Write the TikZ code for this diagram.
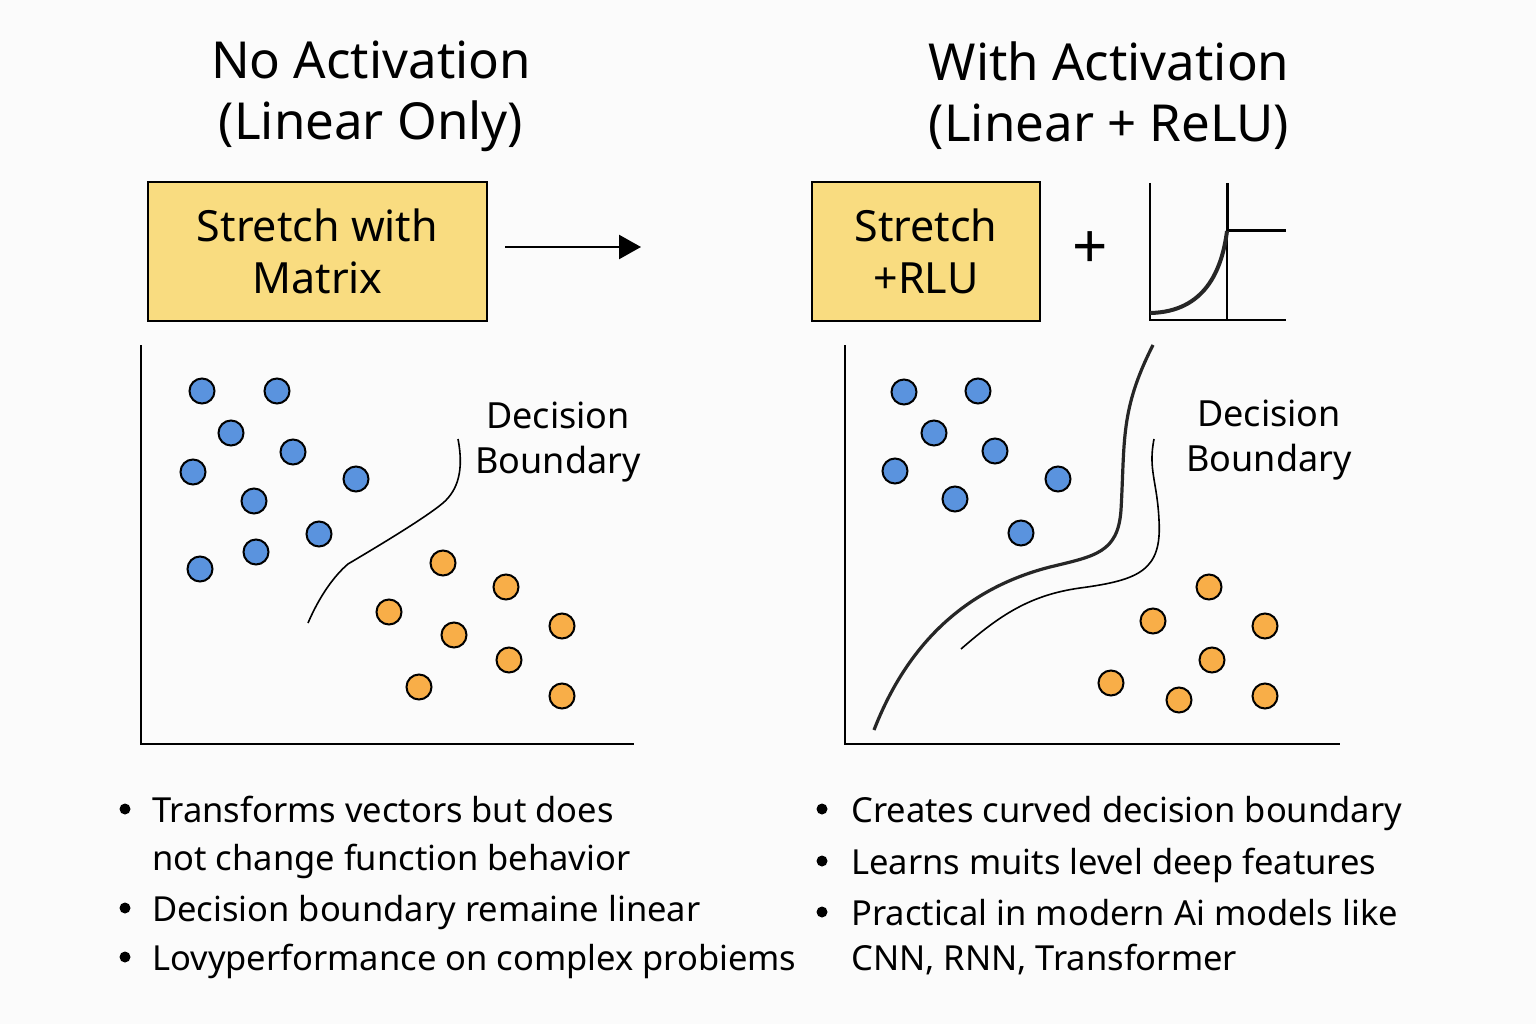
\documentclass[tikz,border=0pt]{standalone}
\usepackage{fontspec}
\setmainfont{Noto Sans}
\usetikzlibrary{arrows.meta}
\definecolor{bg}{HTML}{FBFBFB}
\definecolor{boxfill}{HTML}{F9DC80}
\definecolor{dotblue}{HTML}{5A93DE}
\definecolor{dotorange}{HTML}{F8AE48}
\tikzset{
  title/.style={font=\fontsize{51}{61}\selectfont, align=center},
  stepbox/.style={draw=black, line width=1.2pt, fill=boxfill},
  boxtext/.style={font=\fontsize{43}{52}\selectfont, align=center},
  lbl/.style={font=\fontsize{36}{45}\selectfont, align=center},
  bul/.style={font=\fontsize{34.5}{48}\selectfont, anchor=base west, align=left, inner sep=0pt},
  bdot/.style={circle, minimum size=11pt, inner sep=0pt, fill=black},
  axis/.style={line width=2pt, line cap=butt},
  bluept/.style={circle, draw=black, line width=2pt, fill=dotblue, minimum size=25pt, inner sep=0pt},
  orpt/.style={circle, draw=black, line width=2pt, fill=dotorange, minimum size=25pt, inner sep=0pt},
  thinb/.style={line width=1.6pt},
  thickb/.style={line width=3.2pt, draw=black!85},
}
\begin{document}
\begin{tikzpicture}[x=1pt,y=-1pt]
\fill[bg] (0,0) rectangle (1536,1024);
\useasboundingbox (0,0) rectangle (1536,1024);

% titles
\node[title] (t1) at (371,96) {No Activation\\(Linear Only)};
\node[title] (t2) at (1109,96) {With Activation\\(Linear + ReLU)};

% left box
\node[stepbox, minimum width=339pt, minimum height=139pt] (b1) at (317.5,251.5) {};
\node[boxtext] (b1t) at (b1) {Stretch with\\Matrix};
\coordinate (a1) at (505,247);
\coordinate (a2) at (641,247);
\draw[line width=2.5pt, -{Triangle[length=22pt,width=24pt]}] (a1) -- (a2);

% right box
\node[stepbox, minimum width=228pt, minimum height=139pt] (b2) at (926,251.5) {};
\node[boxtext] (b2t) at (b2) {Stretch\\+RLU};
\node[font=\fontsize{62}{70}\selectfont] (plus) at (1090,250) {+};

% relu icon
\draw[line width=2pt] (1150,183) -- (1150,320) -- (1286,320);
\draw[line width=2pt] (1227,183) -- (1227,320);
\draw[line width=3pt] (1227,183) -- (1227,231);
\draw[line width=3pt] (1227,231) -- (1286,231);
\draw[line width=4pt, black!85] (1150,313) .. controls (1205,312) and (1222,270) .. (1227,231);

% left plot
\draw[axis] (141,345) -- (141,744) -- (634,744);
\foreach \x/\y [count=\i] in {202/391,277/391,231/433,293/452,193/472,356/479,254/501,319/534,256/552,200/569}
  \node[bluept] (lb\i) at (\x,\y) {};
\foreach \x/\y [count=\i] in {443/563,506/587,389/612,454/635,562/626,509/660,419/687,562/696}
  \node[orpt] (lo\i) at (\x,\y) {};
\draw[thinb] (308,623) .. controls (320,595) and (335,575) .. (348,564)
  .. controls (380,545) and (425,518) .. (443,503)
  .. controls (458,490) and (464,470) .. (458,439);
\node[lbl] (dl) at (558,442) {Decision\\Boundary};

% right plot
\draw[axis] (845,345) -- (845,744) -- (1340,744);
\foreach \x/\y [count=\i] in {904/392,978/391,934/433,995/451,895/471,1058/479,955/499,1021/533}
  \node[bluept] (rb\i) at (\x,\y) {};
\foreach \x/\y [count=\i] in {1209/587,1153/621,1265/626,1212/660,1111/683,1179/700,1265/696}
  \node[orpt] (ro\i) at (\x,\y) {};
\draw[thickb] (874,730) .. controls (905,650) and (960,590) .. (1050,567)
  .. controls (1095,556) and (1118,553) .. (1121,510)
  .. controls (1125,440) and (1120,410) .. (1153,345);
\draw[thinb] (961,649) .. controls (1000,615) and (1030,595) .. (1080,588)
  .. controls (1140,580) and (1162,570) .. (1159,520)
  .. controls (1157,480) and (1148,470) .. (1154,439);
\node[lbl] (dr) at (1269,440) {Decision\\Boundary};

% left bullets
\node[bdot] (lp1) at (125,809) {};
\node[bul] (lt1) at (152,822) {Transforms vectors but does};
\node[bul] (lt1b) at (152,870) {not change function behavior};
\node[bdot] (lp2) at (125,908) {};
\node[bul] (lt2) at (152,921) {Decision boundary remaine linear};
\node[bdot] (lp3) at (125,957) {};
\node[bul] (lt3) at (152,970) {Lovyperformance on complex probiems};

% right bullets
\node[bdot] (rp1) at (822,809) {};
\node[bul] (rt1) at (851,822) {Creates curved decision boundary};
\node[bdot] (rp2) at (822,861) {};
\node[bul] (rt2) at (851,874) {Learns muits level deep features};
\node[bdot] (rp3) at (822,912) {};
\node[bul] (rt3) at (851,925) {Practical in modern Ai models like};
\node[bul] (rt3b) at (851,970) {CNN, RNN, Transformer};
\end{tikzpicture}
\end{document}
